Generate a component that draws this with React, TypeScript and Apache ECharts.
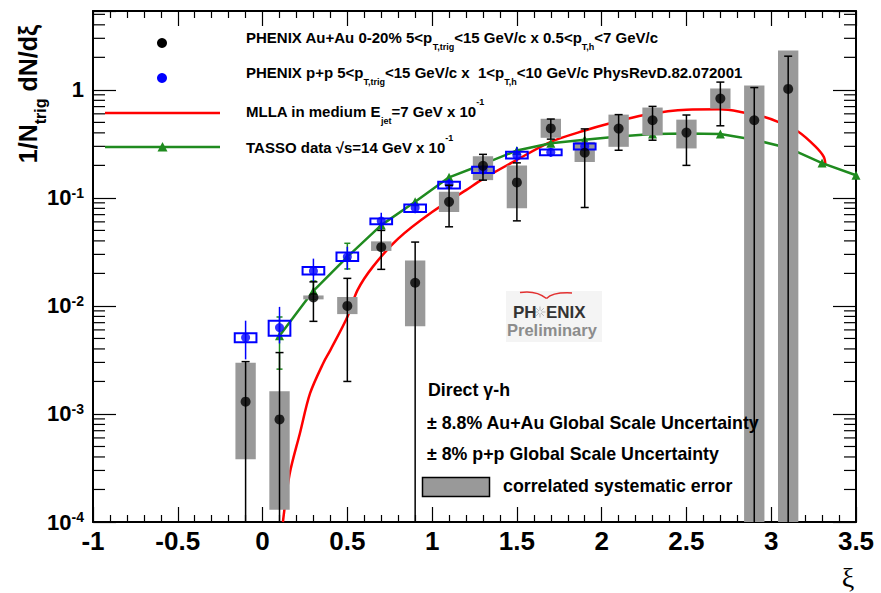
import { useEffect, useRef } from 'react';
import * as echarts from 'echarts';

const X_MIN = -1;
const X_MAX = 3.5;
const Y_MIN = 1e-4;
const Y_MAX = 5.37;
const BELOW = 1e-5; // "down to the axis"

// PHENIX Au+Au 0-20%
const AUAU_X = [-0.1, 0.1, 0.3, 0.5, 0.7, 0.9, 1.1, 1.3, 1.5, 1.7, 1.9, 2.1, 2.3, 2.5, 2.7, 2.9, 3.1];
const AUAU_Y = [1.3e-3, 8.9e-4, 1.2e-2, 1.0e-2, 3.5e-2, 1.64e-2, 9.2e-2, 0.198, 0.139, 0.44, 0.262, 0.438, 0.523, 0.402, 0.831, 0.523, 1.02];
const AUAU_ERR_HI = [3.05e-3, 3.7e-3, 1.67e-2, 1.8e-2, 5.0e-2, 3.9e-2, 0.131, 0.253, 0.211, 0.537, 0.435, 0.59, 0.703, 0.585, 1.18, 1.05, 2.05];
const AUAU_ERR_LO = [BELOW, BELOW, 7.2e-3, 2.0e-3, 2.18e-2, BELOW, 5.4e-2, 0.146, 0.0613, 0.35, 0.0815, 0.276, 0.342, 0.2, 0.465, BELOW, BELOW];
const AUAU_SYS_HI = [2.98e-3, 1.62e-3, 1.25e-2, 1.21e-2, 3.96e-2, 2.64e-2, 0.114, 0.243, 0.2, 0.54, 0.33, 0.59, 0.686, 0.53, 1.03, 1.1, 2.32];
const AUAU_SYS_LO = [3.8e-4, 1.3e-4, 1.15e-2, 8.4e-3, 3.23e-2, 6.5e-3, 7.4e-2, 0.146, 0.08, 0.36, 0.215, 0.297, 0.38, 0.287, 0.67, BELOW, BELOW];

// PHENIX p+p
const PP_X = [-0.1, 0.1, 0.3, 0.5, 0.7, 0.9, 1.1, 1.3, 1.5, 1.7, 1.9];
const PP_Y = [5.1e-3, 6.3e-3, 2.11e-2, 2.85e-2, 6.1e-2, 8.1e-2, 0.134, 0.182, 0.248, 0.265, 0.3];
const PP_ERR_HI = [7.3e-3, 9.8e-3, 2.74e-2, 3.53e-2, 7.3e-2, 9.2e-2, 0.15, 0.2, 0.296, 0.29, 0.33];
const PP_ERR_LO = [3.2e-3, 4.5e-3, 1.67e-2, 2.16e-2, 5.0e-2, 7.2e-2, 0.12, 0.165, 0.215, 0.24, 0.27];
const PP_SYS_HI = [5.6e-3, 7.3e-3, 2.29e-2, 3.13e-2, 6.45e-2, 8.7e-2, 0.141, 0.194, 0.267, 0.28, 0.318];
const PP_SYS_LO = [4.6e-3, 5.3e-3, 1.95e-2, 2.6e-2, 5.7e-2, 7.4e-2, 0.122, 0.17, 0.231, 0.248, 0.28];

// TASSO data sqrt(s)=14 GeV x 10^-1
const TASSO_X = [0.1, 0.3, 0.5, 0.7, 0.9, 1.1, 1.3, 1.5, 1.7, 1.9, 2.1, 2.3, 2.5, 2.7, 2.9, 3.1, 3.3, 3.5];
const TASSO_Y = [5.3e-3, 1.38e-2, 2.85e-2, 5.6e-2, 9.2e-2, 0.155, 0.205, 0.275, 0.32, 0.345, 0.37, 0.39, 0.395, 0.39, 0.345, 0.29, 0.21, 0.162];
const TASSO_ERR_X = [0.1, 0.3, 0.5];
const TASSO_ERR_HI = [7.9e-3, 1.7e-2, 3.8e-2];
const TASSO_ERR_LO = [2.6e-3, 1.15e-2, 2.2e-2];

// MLLA in medium E_jet = 7 GeV x 10^-1
const MLLA_X = [0.12, 0.16, 0.22, 0.28, 0.36, 0.4, 0.5, 0.56, 0.65, 0.8, 1.0, 1.2, 1.3, 1.5, 1.7, 1.9, 2.05, 2.25, 2.5, 2.7, 2.82, 2.96, 3.04, 3.16, 3.26, 3.31, 3.32];
const MLLA_Y = [1e-4, 2.8e-4, 6.6e-4, 1.55e-3, 3.0e-3, 3.9e-3, 7.9e-3, 1.4e-2, 2.3e-2, 4.2e-2, 7.4e-2, 0.118, 0.15, 0.225, 0.33, 0.42, 0.49, 0.585, 0.655, 0.66, 0.625, 0.56, 0.505, 0.41, 0.3, 0.24, 0.2];

// axis decoration
const Y_DECADES = [1e-4, 1e-3, 1e-2, 1e-1, 1];
const Y_MINOR_MULT = [2, 3, 4, 5, 6, 7, 8, 9];

const FONT = '"Liberation Sans", Arial, Helvetica, sans-serif';
const GREY = '#999999';
const BLUE = '#0000ff';
const GREEN = '#1f8b1f';
const RED = '#ff0000';

function boxSeries(xs: number[], his: number[], los: number[], halfW: number, fill: string, stroke: string, lw: number, z: number) {
  return {
    type: 'custom', z, silent: true,
    data: xs.map((x, i) => [x, his[i], los[i]]),
    encode: { x: 0, y: [1, 2] },
    renderItem: (_p: any, api: any) => {
      const x = api.value(0);
      const hi = api.value(1);
      const lo = Math.max(api.value(2), Y_MIN);
      const a = api.coord([x - halfW, hi]);
      const b = api.coord([x + halfW, lo]);
      return {
        type: 'rect',
        shape: { x: a[0], y: a[1], width: b[0] - a[0], height: b[1] - a[1] },
        style: { fill, stroke, lineWidth: lw },
      };
    },
  };
}

function errSeries(xs: number[], his: number[], los: number[], cap: number, color: string, lw: number, z: number) {
  return {
    type: 'custom', z, silent: true,
    data: xs.map((x, i) => [x, his[i], los[i]]),
    encode: { x: 0, y: [1, 2] },
    renderItem: (_p: any, api: any) => {
      const x = api.value(0);
      const hi = api.value(1);
      const loRaw = api.value(2);
      const lo = Math.max(loRaw, Y_MIN);
      const t = api.coord([x, hi]);
      const b = api.coord([x, lo]);
      const st = { stroke: color, lineWidth: lw };
      const ch: any[] = [{ type: 'line', shape: { x1: t[0], y1: t[1], x2: b[0], y2: b[1] }, style: st }];
      if (cap > 0) {
        ch.push({ type: 'line', shape: { x1: t[0] - cap, y1: t[1], x2: t[0] + cap, y2: t[1] }, style: st });
        if (loRaw >= Y_MIN) ch.push({ type: 'line', shape: { x1: b[0] - cap, y1: b[1], x2: b[0] + cap, y2: b[1] }, style: st });
      }
      return { type: 'group', children: ch };
    },
  };
}

function yLabel(v: number) {
  const l = Math.log10(v);
  const e = Math.round(l);
  if (Math.abs(l - e) > 0.01) return '';
  if (e === 0) return '1';
  return '{n|10}{s|' + e + '}';
}

function buildOption() {
  const minorY: number[][] = [];
  Y_DECADES.forEach((d) => Y_MINOR_MULT.forEach((m) => {
    const v = m * d;
    if (v < Y_MAX) minorY.push([X_MIN, v]);
  }));

  const xAxisBase = {
    type: 'value', min: X_MIN, max: X_MAX, interval: 0.5,
    axisLine: { show: true, onZero: false, lineStyle: { color: '#000', width: 2 } },
    axisTick: { show: true, inside: true, length: 15, lineStyle: { color: '#000', width: 1.2 } },
    minorTick: { show: true, splitNumber: 5, length: 7, lineStyle: { color: '#000', width: 1.2 } },
    splitLine: { show: false },
    minorSplitLine: { show: false },
  };
  const yAxisBase = {
    type: 'log', logBase: 10, min: Y_MIN, max: Y_MAX,
    axisLine: { show: true, onZero: false, lineStyle: { color: '#000', width: 2 } },
    axisTick: { show: true, inside: true, length: 23, lineStyle: { color: '#000', width: 1.2 } },
    splitLine: { show: false },
  };

  const sub = (size: number, lh: number) => ({ fontSize: size, lineHeight: lh, fontFamily: FONT, fontWeight: 'bold', fill: '#000', verticalAlign: 'bottom' });
  const sup = (size: number, lh: number) => ({ fontSize: size, lineHeight: lh, fontFamily: FONT, fontWeight: 'bold', fill: '#000', verticalAlign: 'top' });
  const legendText = (text: string, y: number) => ({
    type: 'text', x: 246, y, z: 100,
    style: {
      text, x: 0, y: 0, fontFamily: FONT, fontWeight: 'bold', fontSize: 15, lineHeight: 28,
      fill: '#000', align: 'left', verticalAlign: 'middle',
      rich: { s: sub(9, 9), u: sup(9, 18) },
    },
  });
  const plainText = (text: string, x: number, y: number, size: number) => ({
    type: 'text', x, y, z: 100,
    style: { text, x: 0, y: 0, fontFamily: FONT, fontWeight: 'bold', fontSize: size, fill: '#000', align: 'left', verticalAlign: 'middle' },
  });

  const star: any[] = [];
  for (let k = 0; k < 8; k++) {
    const a = (k * Math.PI) / 4;
    star.push({ type: 'line', z: 100, shape: { x1: 540 + Math.cos(a) * 1.5, y1: 312 + Math.sin(a) * 1.5, x2: 540 + Math.cos(a) * 5.5, y2: 312 + Math.sin(a) * 5.5 }, style: { stroke: '#b8b8b8', lineWidth: 1 } });
  }

  return {
    animation: false,
    backgroundColor: '#ffffff',
    grid: { left: 93, right: 25, top: 11, bottom: 71, containLabel: false, outerBoundsMode: 'none', show: false },
    xAxis: [
      {
        ...xAxisBase, position: 'bottom',
        axisLabel: { show: true, margin: 6, color: '#000', fontFamily: FONT, fontWeight: 'bold', fontSize: 26, showMinLabel: true, showMaxLabel: true, hideOverlap: false },
      },
      { ...xAxisBase, position: 'top', axisLabel: { show: false } },
    ],
    yAxis: [
      {
        ...yAxisBase, position: 'left',
        axisLabel: {
          show: true, margin: 9, formatter: yLabel, color: '#000', fontFamily: FONT, fontWeight: 'bold', fontSize: 22,
          rich: {
            n: { fontSize: 22, lineHeight: 24, fontFamily: FONT, fontWeight: 'bold', color: '#000' },
            s: { fontSize: 14, lineHeight: 14, fontFamily: FONT, fontWeight: 'bold', color: '#000', verticalAlign: 'top' },
          },
        },
      },
      { ...yAxisBase, position: 'right', axisLabel: { show: false } },
    ],
    series: [
      {
        type: 'custom', z: 1, silent: true, data: minorY, encode: { x: 0, y: 1 },
        renderItem: (_p: any, api: any) => {
          const v = api.value(1);
          const l = api.coord([X_MIN, v]);
          const r = api.coord([X_MAX, v]);
          const st = { stroke: '#000', lineWidth: 1.2 };
          return {
            type: 'group', children: [
              { type: 'line', shape: { x1: l[0], y1: l[1], x2: l[0] + 12, y2: l[1] }, style: st },
              { type: 'line', shape: { x1: r[0] - 12, y1: r[1], x2: r[0], y2: r[1] }, style: st },
            ],
          };
        },
      },
      {
        type: 'line', z: 2, silent: true, smooth: 0.3, symbol: 'none', showSymbol: false, clip: true,
        data: MLLA_X.map((x, i) => [x, MLLA_Y[i]]),
        lineStyle: { color: RED, width: 2.5 },
      },
      {
        type: 'line', z: 3, silent: true, symbol: 'triangle', symbolSize: 9, showSymbol: true, clip: true,
        data: TASSO_X.map((x, i) => [x, TASSO_Y[i]]),
        lineStyle: { color: GREEN, width: 2.5 },
        itemStyle: { color: GREEN },
      },
      errSeries(TASSO_ERR_X, TASSO_ERR_HI, TASSO_ERR_LO, 3, GREEN, 1.5, 3),
      boxSeries(AUAU_X, AUAU_SYS_HI, AUAU_SYS_LO, 0.06, GREY, 'none', 0, 4),
      boxSeries(PP_X, PP_SYS_HI, PP_SYS_LO, 0.064, 'none', BLUE, 2, 5),
      errSeries(PP_X, PP_ERR_HI, PP_ERR_LO, 0, BLUE, 1.5, 5),
      {
        type: 'scatter', z: 6, silent: true, symbol: 'circle', symbolSize: 9,
        data: PP_X.map((x, i) => [x, PP_Y[i]]),
        itemStyle: { color: BLUE },
      },
      errSeries(AUAU_X, AUAU_ERR_HI, AUAU_ERR_LO, 4, '#000', 1.5, 7),
      {
        type: 'scatter', z: 8, silent: true, symbol: 'circle', symbolSize: 10,
        data: AUAU_X.map((x, i) => [x, AUAU_Y[i]]),
        itemStyle: { color: '#000' },
      },
    ],
    graphic: {
      elements: [
        // y-axis title
        {
          type: 'text', x: 28, y: 94, rotation: Math.PI / 2, z: 100,
          style: {
            text: '1/N{s|trig} dN/dξ', x: 0, y: 0, fontFamily: FONT, fontWeight: 'bold', fontSize: 25, lineHeight: 40,
            fill: '#000', align: 'center', verticalAlign: 'middle',
            rich: { s: sub(16, 12) },
          },
        },
        // x-axis title
        {
          type: 'text', x: 848, y: 577, z: 100,
          style: { text: 'ξ', x: 0, y: 0, fontFamily: '"Liberation Serif", "DejaVu Serif", serif', fontSize: 28, fill: '#000', align: 'center', verticalAlign: 'middle' },
        },
        // legend
        { type: 'circle', z: 100, shape: { cx: 162, cy: 43, r: 5 }, style: { fill: '#000' } },
        { type: 'circle', z: 100, shape: { cx: 162, cy: 78, r: 5 }, style: { fill: BLUE } },
        { type: 'line', z: 100, shape: { x1: 105, y1: 113, x2: 220, y2: 113 }, style: { stroke: RED, lineWidth: 2.5 } },
        { type: 'line', z: 100, shape: { x1: 105, y1: 147, x2: 220, y2: 147 }, style: { stroke: GREEN, lineWidth: 2.5 } },
        { type: 'polygon', z: 100, shape: { points: [[162.5, 142], [157.5, 151.5], [167.5, 151.5]] }, style: { fill: GREEN } },
        legendText('PHENIX Au+Au 0-20% 5<p{s|T,trig}<15 GeV/c x 0.5<p{s|T,h}<7 GeV/c', 37),
        legendText('PHENIX p+p 5<p{s|T,trig}<15 GeV/c x  1<p{s|T,h}<10 GeV/c PhysRevD.82.072001', 72),
        legendText('MLLA in medium E{s|jet}=7 GeV x 10{u|-1}', 111),
        legendText('TASSO data √s=14 GeV x 10{u|-1}', 147.5),
        // PHENIX Preliminary logo
        { type: 'rect', z: 99, shape: { x: 506, y: 291, width: 96, height: 51 }, style: { fill: '#f4f4f4' } },
        { type: 'bezierCurve', z: 100, shape: { x1: 520, y1: 292.5, cpx1: 536, cpy1: 290, x2: 546.5, y2: 298.5 }, style: { stroke: '#e23030', lineWidth: 1.5, fill: 'none' } },
        { type: 'bezierCurve', z: 100, shape: { x1: 546.5, y1: 298.5, cpx1: 553, cpy1: 292, x2: 572, y2: 293 }, style: { stroke: '#e23030', lineWidth: 1.5, fill: 'none' } },
        ...star,
        { type: 'text', z: 100, x: 513, y: 312.5, style: { text: 'PH', x: 0, y: 0, fontFamily: FONT, fontWeight: 'bold', fontSize: 17, fill: '#333', align: 'left', verticalAlign: 'middle' } },
        { type: 'text', z: 100, x: 546, y: 312.5, style: { text: 'ENIX', x: 0, y: 0, fontFamily: FONT, fontWeight: 'bold', fontSize: 17, fill: '#333', align: 'left', verticalAlign: 'middle' } },
        { type: 'text', z: 100, x: 507, y: 330, style: { text: 'Preliminary', x: 0, y: 0, fontFamily: FONT, fontWeight: 'bold', fontSize: 16.5, fill: '#8c8c8c', align: 'left', verticalAlign: 'middle' } },
        // annotation box
        plainText('Direct γ-h', 428, 390, 17.8),
        plainText('± 8.8% Au+Au Global Scale Uncertainty', 427, 422.5, 17.8),
        plainText('± 8% p+p Global Scale Uncertainty', 427, 454, 17.8),
        { type: 'rect', z: 100, shape: { x: 422.5, y: 477.5, width: 67, height: 19 }, style: { fill: GREY, stroke: '#000', lineWidth: 1.5 } },
        plainText('correlated systematic error', 503, 486, 17.8),
      ],
    },
  };
}

export default function App() {
  const ref = useRef<HTMLDivElement>(null);
  useEffect(() => {
    if (!ref.current) return;
    const chart = echarts.init(ref.current, null, { renderer: 'svg' });
    chart.setOption(buildOption() as any);
    return () => chart.dispose();
  }, []);
  return (
    <div
      ref={ref}
      style={{ position: 'fixed', left: 0, top: 0, width: 881, height: 593, background: '#ffffff' }}
    />
  );
}
